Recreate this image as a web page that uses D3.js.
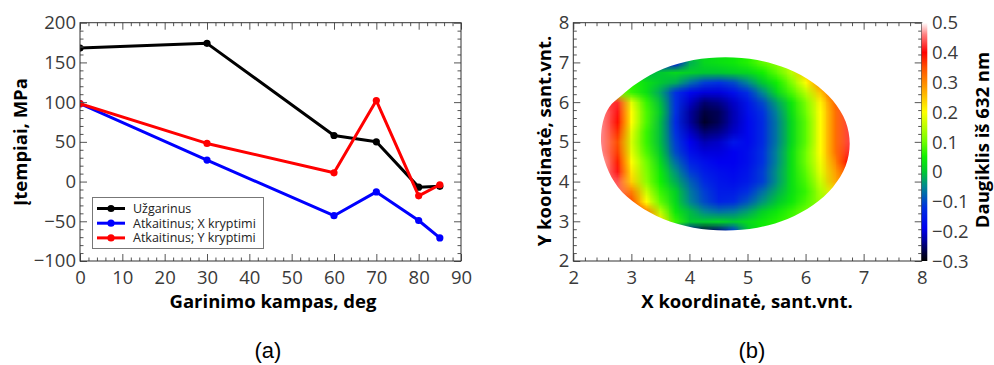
<!DOCTYPE html>
<html>
<head>
<meta charset="utf-8">
<script src="https://cdn.jsdelivr.net/npm/d3@7"></script>
<style>
  body { margin: 0; background: #fff; }
  svg { display: block; font-family: "Open Sans", sans-serif; }
</style>
</head>
<body>
<svg id="fig" width="994" height="365"></svg>
<script>
// ---- (a) stress vs evaporation angle ----
const angles = [0, 30, 60, 70, 80, 85];
const uzgarinus = [168, 174, 58, 50, -7, -6];
const atkaitinusX = [98, 27, -43, -13, -49, -71];
const atkaitinusY = [98, 48, 11, 102, -18, -4];
const seriesNames = ['Užgarinus', 'Atkaitinus; X kryptimi', 'Atkaitinus; Y kryptimi'];
const seriesColors = ['#000000', '#0000ff', '#ff0000'];
const angleTicks = [0, 10, 20, 30, 40, 50, 60, 70, 80, 90];
const stressTicks = [-100, -50, 0, 50, 100, 150, 200];

// ---- (b) surface map, values read on a 0.25 grid ----
const gridX = [2.25, 2.5, 2.75, 3, 3.25, 3.5, 3.75, 4, 4.25, 4.5, 4.75, 5, 5.25, 5.5, 5.75, 6, 6.25, 6.5, 6.75, 7];
const gridY = [7.25, 7, 6.75, 6.5, 6.25, 6, 5.75, 5.5, 5.25, 5, 4.75, 4.5, 4.25, 4, 3.75, 3.5, 3.25, 3, 2.75, 2.5];
const gridZ = [
  [0, 0, 0, 0, -0.05, -0.15, -0.18, 0, 0.02, 0.03, 0.04, 0.06, 0.09, 0.12, 0.15, 0.2, 0.25, 0.3, 0.35, 0.35],
  [0, 0, 0, 0, -0.05, -0.15, -0.18, -0.02, 0.02, 0.03, 0.04, 0.06, 0.09, 0.12, 0.16, 0.22, 0.28, 0.33, 0.38, 0.38],
  [0.05, 0.05, 0.05, 0.03, -0.02, 0, 0.02, 0.01, 0, 0, 0.01, 0.02, 0.05, 0.09, 0.15, 0.25, 0.33, 0.4, 0.43, 0.43],
  [0.1, 0.1, 0.1, 0.06, 0.03, 0, -0.02, -0.07, -0.11, -0.12, -0.1, -0.05, 0, 0.05, 0.11, 0.2, 0.31, 0.4, 0.44, 0.44],
  [0.12, 0.12, 0.12, 0.07, 0.03, -0.03, -0.12, -0.18, -0.2, -0.2, -0.17, -0.12, -0.05, 0.02, 0.08, 0.15, 0.25, 0.36, 0.44, 0.44],
  [0.43, 0.43, 0.42, 0.18, 0.07, -0.01, -0.12, -0.21, -0.25, -0.24, -0.21, -0.16, -0.1, -0.03, 0.04, 0.11, 0.21, 0.33, 0.43, 0.44],
  [0.46, 0.46, 0.41, 0.2, 0.08, 0, -0.12, -0.23, -0.27, -0.26, -0.22, -0.17, -0.12, -0.05, 0.03, 0.1, 0.2, 0.32, 0.43, 0.44],
  [0.47, 0.46, 0.39, 0.2, 0.08, -0.01, -0.13, -0.23, -0.28, -0.26, -0.22, -0.18, -0.13, -0.06, 0.02, 0.09, 0.2, 0.32, 0.43, 0.44],
  [0.47, 0.46, 0.37, 0.18, 0.07, -0.01, -0.12, -0.21, -0.25, -0.24, -0.21, -0.18, -0.13, -0.06, 0.02, 0.09, 0.2, 0.32, 0.43, 0.44],
  [0.47, 0.46, 0.35, 0.17, 0.07, -0.01, -0.11, -0.19, -0.22, -0.21, -0.16, -0.18, -0.13, -0.06, 0.02, 0.09, 0.2, 0.32, 0.43, 0.44],
  [0.47, 0.46, 0.36, 0.18, 0.08, 0, -0.1, -0.17, -0.2, -0.2, -0.19, -0.17, -0.12, -0.05, 0.03, 0.1, 0.2, 0.32, 0.42, 0.43],
  [0.47, 0.47, 0.38, 0.2, 0.1, 0.02, -0.07, -0.14, -0.17, -0.19, -0.19, -0.17, -0.12, -0.05, 0.03, 0.1, 0.19, 0.3, 0.4, 0.4],
  [0.47, 0.47, 0.41, 0.22, 0.11, 0.04, -0.04, -0.11, -0.15, -0.17, -0.18, -0.16, -0.11, -0.04, 0.03, 0.09, 0.18, 0.28, 0.36, 0.36],
  [0.45, 0.45, 0.44, 0.24, 0.12, 0.05, -0.02, -0.08, -0.13, -0.16, -0.17, -0.15, -0.11, -0.04, 0.03, 0.08, 0.16, 0.27, 0.32, 0.32],
  [0.45, 0.45, 0.45, 0.31, 0.16, 0.07, 0.01, -0.06, -0.11, -0.15, -0.15, -0.12, -0.07, -0.02, 0.03, 0.07, 0.14, 0.22, 0.22, 0.22],
  [0.42, 0.42, 0.42, 0.35, 0.2, 0.09, 0.02, -0.05, -0.1, -0.14, -0.13, -0.09, -0.04, 0, 0.04, 0.08, 0.13, 0.14, 0.14, 0.14],
  [0.38, 0.38, 0.38, 0.38, 0.31, 0.15, 0.04, -0.01, -0.05, -0.07, -0.06, -0.03, 0.01, 0.04, 0.07, 0.1, 0.1, 0.1, 0.1, 0.1],
  [0.3, 0.3, 0.3, 0.3, 0.3, 0.22, 0.07, 0, 0, 0.01, 0, 0.02, 0.04, 0.06, 0.08, 0.08, 0.08, 0.08, 0.08, 0.08],
  [0.15, 0.15, 0.15, 0.15, 0.15, 0.15, -0.05, -0.22, -0.27, -0.24, -0.12, 0, 0.05, 0.05, 0.05, 0.05, 0.05, 0.05, 0.05, 0.05],
  [0.15, 0.15, 0.15, 0.15, 0.15, 0.15, -0.05, -0.22, -0.27, -0.24, -0.12, 0, 0.05, 0.05, 0.05, 0.05, 0.05, 0.05, 0.05, 0.05]
];
// measured sample outline (x, y), clockwise from the left edge
const outline = [
  [2.48, 4.95], [2.51, 5.5], [2.62, 5.88], [2.83, 6.17], [3.11, 6.49], [3.55, 6.84], [4.07, 7.06],
  [4.62, 7.13], [5.17, 7.06], [5.69, 6.84], [6.13, 6.49], [6.47, 6.04], [6.69, 5.51], [6.76, 4.95],
  [6.69, 4.39], [6.47, 3.86], [6.13, 3.41], [5.69, 3.06], [5.17, 2.84], [4.62, 2.77], [4.07, 2.84],
  [3.55, 3.06], [3.11, 3.41], [2.77, 3.86], [2.57, 4.39]
];
const coordTicks = [2, 3, 4, 5, 6, 7, 8];
const cbTicks = [0.5, 0.4, 0.3, 0.2, 0.1, 0, -0.1, -0.2, -0.3];
const cbStops = [-0.3, -0.27, -0.23, -0.19, -0.12, -0.05, 0, 0.05, 0.1, 0.16, 0.2, 0.28, 0.35, 0.4, 0.46, 0.5];
const cbColors = ['#000000', '#000040', '#0000a0', '#0000f0', '#0030e0', '#008890', '#00c830', '#10f000',
  '#70ff00', '#c8ff00', '#ffff00', '#ffa000', '#ff5000', '#ff0000', '#ff8080', '#ffffff'];

const svg = d3.select('#fig');
const defs = svg.append('defs');
const tickFont = 18.5;
const titleFont = 18.5;

function frameAxes(x, y, xMajor, xMinor, yMajor, yMinor, xFmt, yFmt) {
  const [x0, x1] = x.range();
  const [y0, y1] = y.range();
  const g = svg.append('g');
  const parts = [
    [d3.axisBottom(x).tickValues(xMajor).tickSizeInner(-7).tickPadding(10).tickFormat(xFmt), `translate(0,${y0})`],
    [d3.axisBottom(x).tickValues(xMinor).tickSizeInner(-3.5).tickFormat(''), `translate(0,${y0})`],
    [d3.axisTop(x).tickValues(xMajor).tickSizeInner(-7).tickFormat(''), `translate(0,${y1})`],
    [d3.axisTop(x).tickValues(xMinor).tickSizeInner(-3.5).tickFormat(''), `translate(0,${y1})`],
    [d3.axisLeft(y).tickValues(yMajor).tickSizeInner(-7).tickPadding(4).tickFormat(yFmt), `translate(${x0},0)`],
    [d3.axisLeft(y).tickValues(yMinor).tickSizeInner(-3.5).tickFormat(''), `translate(${x0},0)`],
    [d3.axisRight(y).tickValues(yMajor).tickSizeInner(-7).tickFormat(''), `translate(${x1},0)`],
    [d3.axisRight(y).tickValues(yMinor).tickSizeInner(-3.5).tickFormat(''), `translate(${x1},0)`]
  ];
  parts.forEach(([ax, tr]) => {
    const a = g.append('g').attr('transform', tr).call(ax.tickSizeOuter(0));
    a.select('.domain').remove();
    a.attr('font-family', null).attr('font-size', null);
    a.selectAll('line').attr('stroke', '#555');
    a.selectAll('text').attr('font-size', tickFont).attr('fill', '#3a3a3a');
  });
  g.append('rect')
    .attr('x', x0).attr('y', y1).attr('width', x1 - x0).attr('height', y0 - y1)
    .attr('fill', 'none').attr('stroke', '#333').attr('stroke-width', 1);
  return g;
}

// ================= (a) =================
const xA = d3.scaleLinear().domain([0, 90]).range([80, 461]);
const yA = d3.scaleLinear().domain([-100, 200]).range([261, 22.7]);

defs.append('clipPath').attr('id', 'clipA').append('rect')
  .attr('x', 80).attr('y', 22.7).attr('width', 381).attr('height', 238.3);

const plotA = svg.append('g').attr('clip-path', 'url(#clipA)');
const lineA = d3.line().x(d => xA(d[0])).y(d => yA(d[1]));
[uzgarinus, atkaitinusX, atkaitinusY].forEach((vals, i) => {
  const pts = angles.map((a, k) => [a, vals[k]]);
  plotA.append('path').datum(pts)
    .attr('d', lineA).attr('fill', 'none')
    .attr('stroke', seriesColors[i]).attr('stroke-width', 3).attr('stroke-linejoin', 'round');
  plotA.selectAll(null).data(pts).enter().append('circle')
    .attr('cx', d => xA(d[0])).attr('cy', d => yA(d[1])).attr('r', 3.6)
    .attr('fill', seriesColors[i]);
});

frameAxes(xA, yA, angleTicks, d3.range(0, 91, 2).filter(v => v % 10),
  stressTicks, d3.range(-100, 201, 10).filter(v => v % 50), d3.format('d'), d3.format('d'));

svg.append('text').attr('x', 273).attr('y', 308).attr('text-anchor', 'middle')
  .attr('font-size', titleFont).attr('font-weight', 'bold').text('Garinimo kampas, deg');
svg.append('text').attr('transform', 'translate(27,142) rotate(-90)').attr('text-anchor', 'middle')
  .attr('font-size', titleFont).attr('font-weight', 'bold').text('Įtempiai, MPa');

// legend
const leg = svg.append('g');
leg.append('rect').attr('x', 92.5).attr('y', 197.5).attr('width', 171).attr('height', 51)
  .attr('fill', '#fff').attr('stroke', '#777').attr('stroke-width', 1);
seriesNames.forEach((name, i) => {
  const cy = 208.5 + i * 14.7;
  leg.append('line').attr('x1', 97).attr('x2', 125).attr('y1', cy).attr('y2', cy)
    .attr('stroke', seriesColors[i]).attr('stroke-width', 3);
  leg.append('circle').attr('cx', 111).attr('cy', cy).attr('r', 3.6).attr('fill', seriesColors[i]);
  leg.append('text').attr('x', 133).attr('y', cy).attr('dy', '0.35em')
    .attr('font-size', 12.5).attr('fill', '#222').text(name);
});

// ================= (b) =================
const xB = d3.scaleLinear().domain([2, 8]).range([573.3, 921.7]);
const yB = d3.scaleLinear().domain([2, 8]).range([261, 22.7]);
const cmap = d3.scaleLinear().domain(cbStops).range(cbColors).clamp(true);

// raster of the grid, smoothed by the browser when scaled up
const cv = document.createElement('canvas');
cv.width = gridX.length; cv.height = gridY.length;
const ctx = cv.getContext('2d');
const img = ctx.createImageData(cv.width, cv.height);
gridZ.forEach((row, j) => row.forEach((z, i) => {
  const c = d3.rgb(cmap(z));
  const k = (j * cv.width + i) * 4;
  img.data[k] = c.r; img.data[k + 1] = c.g; img.data[k + 2] = c.b; img.data[k + 3] = 255;
}));
ctx.putImageData(img, 0, 0);

const half = 0.125;
defs.append('clipPath').attr('id', 'clipB').append('path')
  .attr('d', d3.line().x(d => xB(d[0])).y(d => yB(d[1])).curve(d3.curveCatmullRomClosed.alpha(0.5))(outline));

svg.append('g').attr('clip-path', 'url(#clipB)').append('image')
  .attr('href', cv.toDataURL())
  .attr('x', xB(gridX[0] - half)).attr('y', yB(gridY[0] + half))
  .attr('width', xB(gridX[gridX.length - 1] + half) - xB(gridX[0] - half))
  .attr('height', yB(gridY[gridY.length - 1] - half) - yB(gridY[0] + half))
  .attr('preserveAspectRatio', 'none');

const minorB = d3.range(2, 8.01, 0.2).filter(v => Math.abs(v - Math.round(v)) > 0.01);
frameAxes(xB, yB, coordTicks, minorB, coordTicks, minorB, d3.format('d'), d3.format('d'));

svg.append('text').attr('x', 747).attr('y', 308).attr('text-anchor', 'middle')
  .attr('font-size', titleFont).attr('font-weight', 'bold').text('X koordinatė, sant.vnt.');
svg.append('text').attr('transform', 'translate(551,141) rotate(-90)').attr('text-anchor', 'middle')
  .attr('font-size', titleFont).attr('font-weight', 'bold').text('Y koordinatė, sant.vnt.');

// colour bar
const yC = d3.scaleLinear().domain([-0.3, 0.5]).range([261, 22.7]);
const grad = defs.append('linearGradient').attr('id', 'cbGrad')
  .attr('x1', 0).attr('y1', 1).attr('x2', 0).attr('y2', 0);
cbStops.forEach((s, i) => {
  grad.append('stop').attr('offset', yC.copy().range([0, 1])(s)).attr('stop-color', cbColors[i]);
});
svg.append('rect').attr('x', 921.7).attr('y', yC(0.5)).attr('width', 5.6)
  .attr('height', yC(-0.3) - yC(0.5)).attr('fill', 'url(#cbGrad)');
svg.append('g').selectAll('text').data(cbTicks).enter().append('text')
  .attr('x', 932).attr('y', d => yC(d)).attr('dy', '0.36em')
  .attr('font-size', tickFont).attr('fill', '#3a3a3a')
  .text(d => d === 0 ? '0' : d3.format('.1f')(d));
svg.append('text').attr('transform', 'translate(989,140) rotate(-90)').attr('text-anchor', 'middle')
  .attr('font-size', titleFont).attr('font-weight', 'bold').text('Daugiklis iš 632 nm');

// panel captions
svg.append('text').attr('x', 268).attr('y', 358).attr('text-anchor', 'middle')
  .attr('font-family', '"Liberation Sans", Arial, sans-serif').attr('font-size', 22).text('(a)');
svg.append('text').attr('x', 752).attr('y', 358).attr('text-anchor', 'middle')
  .attr('font-family', '"Liberation Sans", Arial, sans-serif').attr('font-size', 22).text('(b)');
</script>
</body>
</html>
